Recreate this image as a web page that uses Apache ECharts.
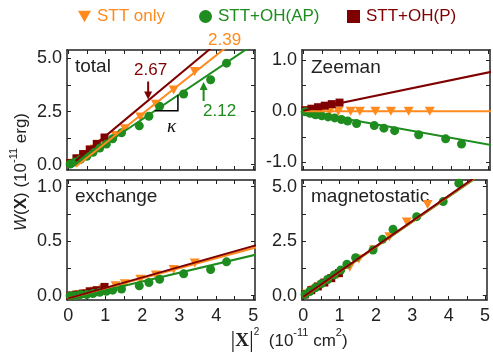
<!DOCTYPE html>
<html><head><meta charset="utf-8">
<script src="https://cdn.jsdelivr.net/npm/echarts@6/dist/echarts.min.js"></script>
<style>html,body{margin:0;padding:0;background:#fff}#c{width:493px;height:358px}</style>
</head><body><div id="c"></div>
<script>
// ---------- data ----------
const xOnly = [0.1, 0.3, 0.5, 0.72, 0.95, 1.28, 1.53, 1.95, 2.37, 2.85, 3.42];
const xAP   = [0.05, 0.18, 0.33, 0.5, 0.67, 0.85, 1.03, 1.2, 1.44, 1.92, 2.18, 2.47, 3.12, 3.85, 4.28];
const xP    = [0.05, 0.22, 0.4, 0.58, 0.77, 0.98];

const totalOnly = [0.07, 0.27, 0.48, 0.74, 1.0, 1.38, 1.69, 2.25, 2.85, 3.52, 4.39];
const totalAP   = [0.03, 0.13, 0.25, 0.4, 0.58, 0.78, 0.97, 1.22, 1.5, 1.83, 2.28, 2.75, 3.33, 4.0, 4.78];
const totalP    = [0.08, 0.3, 0.5, 0.72, 0.98, 1.28];

const zeemanOnly = [0.01, 0.01, 0, 0, 0, 0, 0, 0, 0, 0, 0];
const zeemanAP   = [-0.01, -0.04, -0.07, -0.09, -0.11, -0.13, -0.16, -0.19, -0.24, -0.28, -0.33, -0.38, -0.46, -0.54, -0.64];
const zeemanP    = [0.02, 0.05, 0.08, 0.11, 0.14, 0.17];

const exchangeOnly = [0.0, 0.01, 0.02, 0.04, 0.06, 0.09, 0.11, 0.15, 0.19, 0.24, 0.3];
const exchangeAP   = [0.0, 0.0, 0.01, 0.01, 0.02, 0.03, 0.04, 0.05, 0.06, 0.09, 0.12, 0.15, 0.2, 0.24, 0.31];
const exchangeP    = [0.0, 0.01, 0.02, 0.04, 0.05, 0.08];

const magOnly = [0.08, 0.27, 0.48, 0.72, 0.95, 1.3, 1.68, 2.1, 2.7, 3.38, 4.18];
const magAP   = [0.05, 0.19, 0.36, 0.55, 0.74, 0.95, 1.17, 1.44, 1.74, 2.09, 2.58, 3.04, 3.62, 4.31, 5.15];
const magP    = [0.06, 0.25, 0.42, 0.6, 0.8, 1.03];

// linear fits, order: [STT only, STT+OH(AP), STT+OH(P)]
const slopeTotal = [1.38, 1.17, 1.45],  icptTotal = [-0.37, -0.2, -0.11];
const slopeZeeman = [0, -0.13, 0.15],   icptZeeman = [0, 0, 0.01];
const slopeExchange = [0.092, 0.08, 0.096], icptExchange = [-0.025, -0.03, -0.025];
const slopeMag = [1.155, 1.15, 1.16],   icptMag = [-0.065, -0.07, -0.06];
const fitRangeTotal = [0.2, 5.1];
const fitRange = [0, 5.1];

// ticks and labels
const xTicks = [0, 0.5, 1, 1.5, 2, 2.5, 3, 3.5, 4, 4.5, 5];
const xLabels = [0, 1, 2, 3, 4, 5];
const yTicksTotal = [0, 1.25, 2.5, 3.75, 5], yLabelsTotal = [0, 2.5, 5];
const yTicksZeeman = [-1, -0.5, 0, 0.5, 1], yLabelsZeeman = [-1, 0, 1];
const yTicksExchange = [0, 0.25, 0.5, 0.75, 1], yLabelsExchange = [0, 0.5, 1];
const yTicksMag = [0, 1.25, 2.5, 3.75, 5], yLabelsMag = [0, 2.5, 5];
const panelNames = ['total', 'Zeeman', 'exchange', 'magnetostatic'];
const seriesNames = ['STT only', 'STT+OH(AP)', 'STT+OH(P)'];
const slopeLabels = ['2.39', '2.12', '2.67'];

// ---------- chart ----------
const C = ['#FF8A1E', '#1E8C1E', '#7F0000'];
const INK = '#222';
const FONT = "'Liberation Sans', Arial, sans-serif";
const TRI = 'path://M0,0L10,0L5,9Z';
const SYM = [TRI, 'circle', 'rect'];
const SYMSIZE = [[10, 9], 9, 8];

const panels = [
  {grid:{left:67, top:50, width:188, height:120}, ymin:-0.25, ymax:5.4, yt:yTicksTotal, yl:yLabelsTotal,
   ys:[totalOnly, totalAP, totalP], sl:slopeTotal, ic:icptTotal, fr:fitRangeTotal, showX:false, lx:75, ly:67},
  {grid:{left:302, top:50, width:188, height:120}, ymin:-1.15, ymax:1.2, yt:yTicksZeeman, yl:yLabelsZeeman,
   ys:[zeemanOnly, zeemanAP, zeemanP], sl:slopeZeeman, ic:icptZeeman, fr:fitRange, showX:false, lx:311, ly:68},
  {grid:{left:67, top:180, width:188, height:120}, ymin:-0.04, ymax:1.06, yt:yTicksExchange, yl:yLabelsExchange,
   ys:[exchangeOnly, exchangeAP, exchangeP], sl:slopeExchange, ic:icptExchange, fr:fitRange, showX:true, lx:75, ly:197},
  {grid:{left:302, top:180, width:188, height:120}, ymin:-0.2, ymax:5.3, yt:yTicksMag, yl:yLabelsMag,
   ys:[magOnly, magAP, magP], sl:slopeMag, ic:icptMag, fr:fitRange, showX:true, lx:311, ly:197}
];
const xs = [xOnly, xAP, xP];

const grids = [], xAxes = [], yAxes = [], series = [];
const lineStyleAxis = {color: INK, width: 1.5};
panels.forEach((p, g) => {
  grids.push(p.grid);
  const common = {type:'value', gridIndex:g, splitLine:{show:false}};
  xAxes.push(Object.assign({}, common, {min:-0.035, max:5.05, position:'bottom',
    axisLine:{show:true, onZero:false, lineStyle:lineStyleAxis},
    axisTick:{show:true, inside:true, length:4, customValues:xTicks, lineStyle:{color:INK, width:1}},
    axisLabel:{show:p.showX, customValues:xLabels, margin:7, fontSize:18, color:INK, fontFamily:FONT}}));
  xAxes.push(Object.assign({}, common, {min:-0.035, max:5.05, position:'top',
    axisLine:{show:true, onZero:false, lineStyle:lineStyleAxis},
    axisTick:{show:true, inside:true, length:4, customValues:xTicks, lineStyle:{color:INK, width:1}},
    axisLabel:{show:false}}));
  yAxes.push(Object.assign({}, common, {min:p.ymin, max:p.ymax, position:'left',
    axisLine:{show:true, onZero:false, lineStyle:lineStyleAxis},
    axisTick:{show:true, inside:true, length:4, customValues:p.yt, lineStyle:{color:INK, width:1}},
    axisLabel:{show:true, customValues:p.yl, margin:5, fontSize:18, color:INK, fontFamily:FONT,
      formatter:v => Number(v).toFixed(1)}}));
  yAxes.push(Object.assign({}, common, {min:p.ymin, max:p.ymax, position:'right',
    axisLine:{show:true, onZero:false, lineStyle:lineStyleAxis},
    axisTick:{show:true, inside:true, length:4, customValues:p.yt, lineStyle:{color:INK, width:1}},
    axisLabel:{show:false}}));
  [0, 2, 1].forEach(k => {
    series.push({type:'scatter', name:seriesNames[k], xAxisIndex:2*g, yAxisIndex:2*g,
      symbol:SYM[k], symbolSize:SYMSIZE[k], itemStyle:{color:C[k], opacity:1},
      data:xs[k].map((x, i) => [x, p.ys[k][i]]), z:2, silent:true});
  });
  [1, 0, 2].forEach(k => {
    series.push({type:'line', name:'fit' + g + k, xAxisIndex:2*g, yAxisIndex:2*g,
      data:p.fr.map(x => [x, p.sl[k]*x + p.ic[k]]), showSymbol:false, symbol:'none',
      lineStyle:{color:C[k], width:2}, clip:true, z:3, silent:true});
  });
});

function legendFor(k, left, icon) {
  return {left:left, top:8, selectedMode:false, itemWidth:13, itemHeight:13, padding:0,
    data:[{name:seriesNames[k], icon:icon, textStyle:{color:C[k]}}],
    textStyle:{fontSize:17, fontFamily:FONT, color:C[k], padding:[0,0,0,1]}};
}

const chart = echarts.init(document.getElementById('c'), null, {renderer:'canvas'});
chart.setOption({
  animation:false,
  backgroundColor:'#fff',
  grid:grids, xAxis:xAxes, yAxis:yAxes, series:series,
  legend:[legendFor(0, 78, TRI), legendFor(1, 199, 'circle'), legendFor(2, 347, 'rect')]
});

// ---------- annotations ----------
const px = (g, x, y) => chart.convertToPixel({xAxisIndex:2*g, yAxisIndex:2*g}, [x, y]);
const fitY = (k, x) => slopeTotal[k]*x + icptTotal[k];
const redTip = px(0, 2.16, fitY(2, 2.16));
const greenTip = px(0, 3.66, fitY(1, 3.66));
const kA = px(0, 2.34, fitY(1, 2.34));
const kB = px(0, 2.965, fitY(1, 2.965));
const txt = (x, y, text, color, size, extra) => Object.assign({type:'text', x:x, y:y, silent:true,
  style:Object.assign({text:text, fill:color, fontSize:size, fontFamily:FONT, align:'left', verticalAlign:'middle'}, extra || {})});

const graphics = [];
panels.forEach((p, g) => graphics.push(txt(p.lx, p.ly, panelNames[g], INK, 19)));
graphics.push(txt(134, 70, slopeLabels[2], C[2], 17));
graphics.push(txt(208, 40, slopeLabels[0], C[0], 17));
graphics.push(txt(203, 111, slopeLabels[1], C[1], 17));
const rx = redTip[0], ry = redTip[1] - 1;
graphics.push({type:'line', silent:true, shape:{x1:rx, y1:ry-18, x2:rx, y2:ry-6}, style:{stroke:C[2], lineWidth:2}});
graphics.push({type:'polygon', silent:true, shape:{points:[[rx-4, ry-8], [rx+4, ry-8], [rx, ry]]}, style:{fill:C[2]}});
const gx = greenTip[0], gy = greenTip[1] + 4;
graphics.push({type:'line', silent:true, shape:{x1:gx, y1:gy+19, x2:gx, y2:gy+6}, style:{stroke:C[1], lineWidth:2}});
graphics.push({type:'polygon', silent:true, shape:{points:[[gx-4, gy+8], [gx+4, gy+8], [gx, gy]]}, style:{fill:C[1]}});
graphics.push({type:'polyline', silent:true, shape:{points:[[kA[0], kA[1]], [kB[0], kA[1]], [kB[0], kB[1]]]}, style:{stroke:'#000', lineWidth:1.5, fill:null}, z:10});
graphics.push(txt(kB[0]-11, kA[1]+16, 'κ', '#111', 19, {fontFamily:"'Liberation Serif', 'DejaVu Serif', serif", fontStyle:'italic'}));

graphics.push({type:'text', x:21, y:172, rotation:Math.PI/2, silent:true, style:{
  text:'{i|W}{n|(}{b|X}{n|) (10}{s|-11}{n| erg)}', align:'center', verticalAlign:'middle',
  rich:{
    i:{fontSize:17, fontStyle:'italic', fontFamily:FONT, fill:INK, lineHeight:26},
    n:{fontSize:17, fontFamily:FONT, fill:INK, lineHeight:26},
    b:{fontSize:17, fontWeight:'bold', fontFamily:FONT, fill:INK, lineHeight:26},
    s:{fontSize:11, fontFamily:FONT, fill:INK, lineHeight:12, verticalAlign:'top'}
  }}});
graphics.push({type:'text', x:289, y:341, silent:true, style:{
  text:'{bar||}{bx|X}{bar||}{s2|2}{n|  (10}{s|-11}{n| cm}{s|2}{n|)}', align:'center', verticalAlign:'middle',
  rich:{
    bar:{fontSize:24, fontFamily:"'Liberation Serif', serif", fill:INK, lineHeight:28},
    bx:{fontSize:19, fontWeight:'bold', fontFamily:"'Liberation Serif', serif", fill:INK, lineHeight:28},
    n:{fontSize:17, fontFamily:FONT, fill:INK, lineHeight:28},
    s:{fontSize:11, fontFamily:FONT, fill:INK, lineHeight:14, verticalAlign:'top'},
    s2:{fontSize:10, fontFamily:FONT, fill:INK, lineHeight:12, verticalAlign:'top'}
  }}});

chart.setOption({graphic:graphics});
</script>
</body></html>
